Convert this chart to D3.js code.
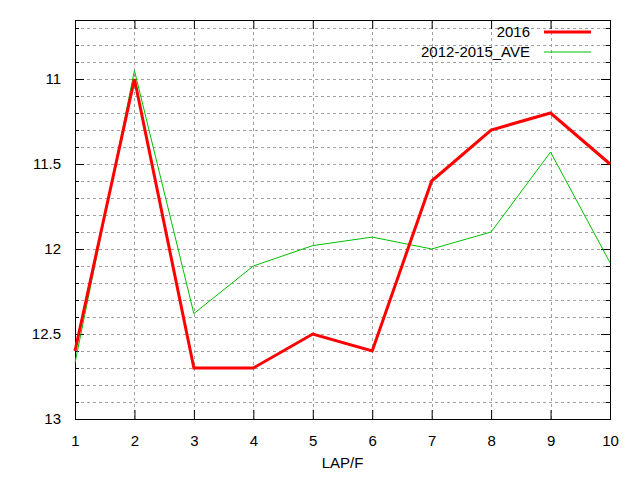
<!DOCTYPE html>
<html>
<head>
<meta charset="utf-8">
<script src="https://cdn.jsdelivr.net/npm/d3@7"></script>
<style>
  body { margin: 0; background: #fff; }
  text { font-family: "Liberation Sans", Arial, sans-serif; font-size: 15px; fill: #000; }
</style>
</head>
<body>
<div id="chart"></div>
<script>
// data
let laps = [1, 2, 3, 4, 5, 6, 7, 8, 9, 10];
let times2016 = [12.6, 11.0, 12.7, 12.7, 12.5, 12.6, 11.6, 11.3, 11.2, 11.5];
let timesAve = [12.67, 10.95, 12.38, 12.1, 11.98, 11.93, 12.0, 11.9, 11.43, 12.08];
let yTickLabels = [11, 11.5, 12, 12.5, 13];
let seriesNames = ["2016", "2012-2015_AVE"];

let width = 640;
let height = 480;
let margin = ({top: 20, right: 30, bottom: 61, left: 75});

let svg = d3.select("#chart")
    .append("svg")
    .attr("width", width)
    .attr("height", height)

let xScale = d3.scaleLinear()
    .domain([1, 10])
    .range([margin.left, width - margin.right])

// inverted axis: 13 at bottom
let yScale = d3.scaleLinear()
    .domain([13, 10.653])
    .range([height - margin.bottom, margin.top])

let x0 = margin.left, x1 = width - margin.right;
let y0 = height - margin.bottom, y1 = margin.top;

// minor values every 0.1
let minor = d3.range(107, 131).map(d => d / 10)

// grid
let grid = svg.append("g")
    .attr("stroke", "#a0a0a0")
    .attr("stroke-width", 1)
    .attr("stroke-dasharray", "3,3")
minor.filter(v => v < 13).forEach(v => {
    grid.append("line")
        .attr("x1", x0).attr("x2", x1)
        .attr("y1", Math.round(yScale(v)) + 0.5).attr("y2", Math.round(yScale(v)) + 0.5)
})
laps.slice(1, -1).forEach(v => {
    grid.append("line")
        .attr("x1", Math.round(xScale(v)) + 0.5).attr("x2", Math.round(xScale(v)) + 0.5)
        .attr("y1", y0).attr("y2", y1)
})

// axes with mirrored ticks
let yAxisL = d3.axisLeft(yScale).tickValues(yTickLabels).tickSize(-9).tickPadding(14).tickFormat(d3.format("~g"))
let yAxisR = d3.axisRight(yScale).tickValues(yTickLabels).tickSize(-9).tickFormat("")
let yMinorL = d3.axisLeft(yScale).tickValues(minor.filter(v => !yTickLabels.includes(v))).tickSize(-4).tickFormat("")
let yMinorR = d3.axisRight(yScale).tickValues(minor.filter(v => !yTickLabels.includes(v))).tickSize(-4).tickFormat("")
let xAxisB = d3.axisBottom(xScale).tickValues(laps).tickSize(-9).tickPadding(16)
let xAxisT = d3.axisTop(xScale).tickValues(laps).tickSize(-9).tickFormat("")

function style(g) {
    g.select(".domain").remove()
    g.selectAll("line").attr("stroke", "#000")
    g.selectAll("text").style("font-size", "15px")
}

svg.append("g").attr("transform", "translate(" + x0 + ",0)").call(yAxisL).call(style)
svg.append("g").attr("transform", "translate(" + x0 + ",0)").call(yMinorL).call(style)
svg.append("g").attr("transform", "translate(" + x1 + ",0)").call(yAxisR).call(style)
svg.append("g").attr("transform", "translate(" + x1 + ",0)").call(yMinorR).call(style)
svg.append("g").attr("transform", "translate(0," + y0 + ")").call(xAxisB).call(style)
svg.append("g").attr("transform", "translate(0," + y1 + ")").call(xAxisT).call(style)

// border
svg.append("rect")
    .attr("x", x0 + 0.5).attr("y", y1 + 0.5)
    .attr("width", x1 - x0).attr("height", y0 - y1)
    .attr("fill", "none")
    .attr("stroke", "#000")
    .attr("stroke-width", 1)

let line = d3.line()
    .x((d, i) => xScale(laps[i]))
    .y(d => yScale(d))

svg.append("path")
    .datum(timesAve)
    .attr("d", line)
    .attr("fill", "none")
    .attr("stroke", "#00c000")
    .attr("stroke-width", 1)

svg.append("path")
    .datum(times2016)
    .attr("d", line)
    .attr("fill", "none")
    .attr("stroke", "#ff0000")
    .attr("stroke-width", 3)

// legend
let legend = svg.append("g")
let colors = ["#ff0000", "#00c000"];
let widths = [3, 1];
seriesNames.forEach((name, i) => {
    let ly = 32 + i * 20
    legend.append("text")
        .attr("x", 530).attr("y", ly)
        .attr("dy", "0.35em")
        .attr("text-anchor", "end")
        .text(name)
    legend.append("line")
        .attr("x1", 544).attr("x2", 591)
        .attr("y1", ly).attr("y2", ly)
        .attr("stroke", colors[i])
        .attr("stroke-width", widths[i])
})

// axis title
svg.append("text")
    .attr("x", (x0 + x1) / 2)
    .attr("y", 468)
    .attr("text-anchor", "middle")
    .text("LAP/F")
</script>
</body>
</html>
